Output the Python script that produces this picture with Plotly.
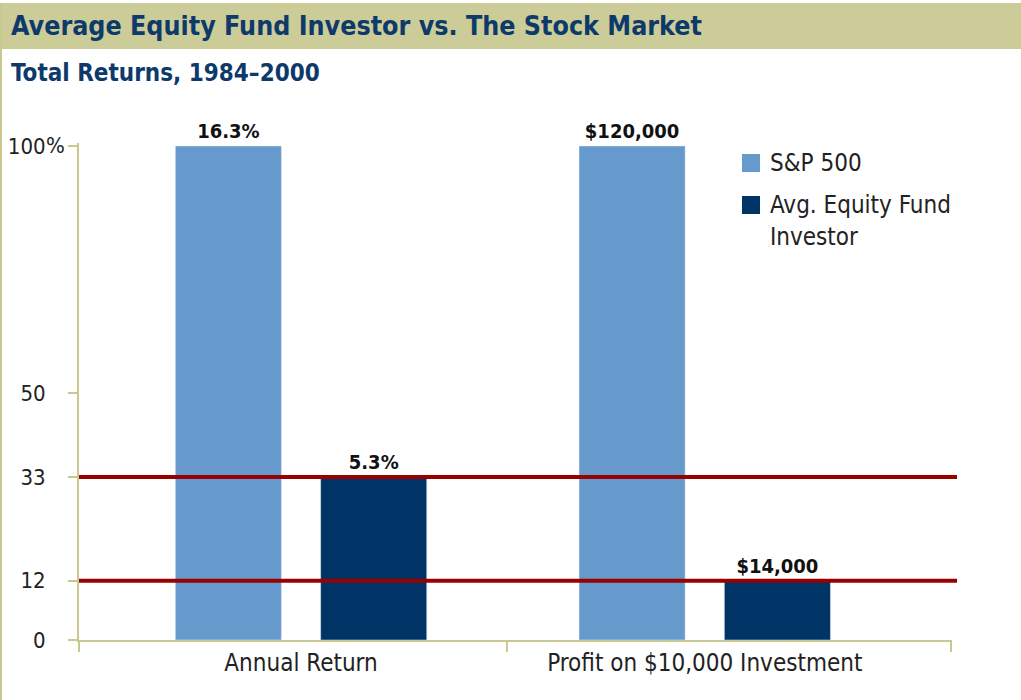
import plotly.graph_objects as go

categories = ["Annual Return", "Profit on $10,000 Investment"]
series_names = ["S&P 500", "Avg. Equity Fund<br>Investor"]
sp500_values = [100, 100]
investor_values = [33, 12]
sp500_labels = ["16.3%", "$120,000"]
investor_labels = ["5.3%", "$14,000"]
y_tickvals = [0, 12, 33, 50, 100]
y_ticktext = ["0", "12", "33", "50", "100"]
ref_lines = [33, 12]

W, H = 1021, 700
ML, MR, MT, MB = 79, 70, 143, 60
PW, PH = W - ML - MR, H - MT - MB
XR = [-0.55, 1.61]

FONT = "Liberation Sans Narrow, Arial Narrow, DejaVu Sans Condensed, sans-serif"
OLIVE = "#cccc99"
AXIS = "#c9c98f"
NAVY = "#003366"
LIGHT = "#6699cc"
RED = "#990000"
TITLE_C = "#0d3a6a"
TXT = "#222222"


def px_x(p):
    return (p - ML) / PW


def px_y(p):
    return (H - MB - p) / PH


def dx(v):
    return (v - XR[0]) / (XR[1] - XR[0])


xpos = list(range(len(categories)))
colors = [LIGHT, NAVY]

fig = go.Figure()
for vals, labs, name, col in zip([sp500_values, investor_values],
                                 [sp500_labels, investor_labels],
                                 series_names, colors):
    fig.add_trace(go.Bar(
        x=xpos, y=vals, name=name, marker_color=col,
        text=labs, texttemplate="<b>%{text}</b>", textposition="outside",
        cliponaxis=False, textfont=dict(family=FONT, size=20, color="#111111"),
        showlegend=False,
    ))

for v in ref_lines:
    fig.add_shape(type="line", xref="paper", yref="y", x0=0, x1=px_x(957), y0=v, y1=v,
                  line=dict(color=RED, width=4), layer="above")

# title band
fig.add_shape(type="rect", xref="paper", yref="paper",
              x0=px_x(0), x1=px_x(W), y0=px_y(49), y1=px_y(3),
              fillcolor=OLIVE, line=dict(width=0), layer="below")
# left border
fig.add_shape(type="line", xref="paper", yref="paper",
              x0=px_x(1), x1=px_x(1), y0=px_y(700), y1=px_y(3),
              line=dict(color=AXIS, width=2), layer="below")
# x-axis separator ticks
for t in [0.51, XR[1]]:
    fig.add_shape(type="line", xref="paper", yref="paper",
                  x0=dx(t), x1=dx(t), y0=0, y1=px_y(652),
                  line=dict(color=AXIS, width=2))
fig.add_shape(type="line", xref="paper", yref="paper",
              x0=0, x1=0, y0=0, y1=px_y(652),
              line=dict(color=AXIS, width=2))

# "%" hanging after the top tick label
fig.add_annotation(text="%", xref="paper", yref="y", x=px_x(44), y=100,
                   xanchor="left", yanchor="middle", showarrow=False,
                   font=dict(family=FONT, size=22, color=TXT))

# legend (drawn manually for large swatches)
legend_rows = [(163, [163]), (205, [205, 237])]
for (sy, lines), name, col in zip(legend_rows, series_names, colors):
    fig.add_shape(type="rect", xref="paper", yref="paper",
                  x0=px_x(742), x1=px_x(760), y0=px_y(sy + 9), y1=px_y(sy - 9),
                  fillcolor=col, line=dict(width=0))
    for ly, part in zip(lines, name.split("<br>")):
        fig.add_annotation(text=part, xref="paper", yref="paper",
                           x=px_x(768), y=px_y(ly), xanchor="left", yanchor="middle",
                           showarrow=False, font=dict(family=FONT, size=24, color=TXT))

fig.add_annotation(text="<b>Average Equity Fund Investor vs. The Stock Market</b>",
                   xref="paper", yref="paper", x=px_x(9), y=px_y(25),
                   xanchor="left", yanchor="middle", showarrow=False,
                   font=dict(family=FONT, size=26.6, color=TITLE_C))
fig.add_annotation(text="<b>Total Returns, 1984–2000</b>",
                   xref="paper", yref="paper", x=px_x(9), y=px_y(73),
                   xanchor="left", yanchor="middle", showarrow=False,
                   font=dict(family=FONT, size=24, color=TITLE_C))

fig.update_layout(
    width=W, height=H,
    margin=dict(l=ML, r=MR, t=MT, b=MB, autoexpand=False),
    plot_bgcolor="white", paper_bgcolor="white",
    barmode="group", bargap=0.28, bargroupgap=0.27,
    showlegend=False,
    xaxis=dict(range=XR, tickvals=xpos, ticktext=categories, ticks="",
               automargin=False,
               showline=True, linecolor=AXIS, linewidth=2, showgrid=False,
               zeroline=False, tickfont=dict(family=FONT, size=24, color=TXT)),
    yaxis=dict(range=[0, 100.6], tickvals=y_tickvals, ticktext=y_ticktext,
               ticks="outside", ticklen=9, tickcolor=AXIS, tickwidth=2,
               ticklabelstandoff=18, automargin=False,
               showline=True, linecolor=AXIS, linewidth=2, showgrid=False,
               zeroline=False, tickfont=dict(family=FONT, size=22, color=TXT)),
    font=dict(family=FONT),
)

fig.write_html(
    "out.html",
    config={"displayModeBar": False},
    post_script="document.body.style.margin='0';document.body.style.padding='0';"
                "document.documentElement.style.overflow='hidden';",
)
